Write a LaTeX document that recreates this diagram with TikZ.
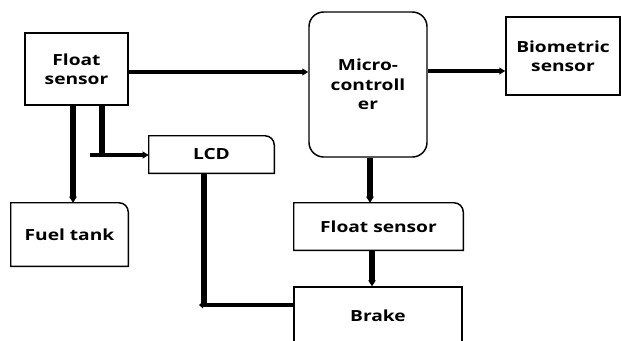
\documentclass[tikz,border=0pt]{standalone}
\usepackage{fontspec}
\setmainfont{Open Sans}[FakeStretch=1.25]
\usetikzlibrary{arrows.meta}
\begin{document}
\begin{tikzpicture}[x=0.75pt,y=0.75pt,
  font=\fontsize{11.5}{14.5}\selectfont\bfseries,
  box/.style={draw=none,inner sep=0pt,align=center},
  border/.style={line width=1.1pt},
  hline/.style={line width=2.6pt,-{Triangle[length=4.5pt,width=5pt]}},
  vline/.style={line width=4pt,-{Triangle[length=4.5pt,width=5.5pt]}},
  vplain/.style={line width=4pt},
  hplain/.style={line width=2.6pt}]
\useasboundingbox (0,0) rectangle (621,-340);
\clip (0,0) rectangle (621,-340);
% nodes
\node[box,draw,border,minimum width=103*0.75pt,minimum height=72*0.75pt] (fs1) at (76.5,-69) {Float\\sensor};
\node[box,draw,border,rounded corners=11pt,minimum width=118*0.75pt,minimum height=145*0.75pt] (mc) at (368,-84.5) {Micro-\\controll\\er};
\node[box,draw,border,minimum width=114*0.75pt,minimum height=78*0.75pt] (bio) at (563,-56) {Biometric\\sensor};
\node[box,minimum width=125*0.75pt,minimum height=37*0.75pt] (lcd) at (211.5,-154.5) {LCD};
\node[box,minimum width=117*0.75pt,minimum height=63*0.75pt] (fuel) at (69.5,-234.5) {Fuel tank};
\node[box,minimum width=169*0.75pt,minimum height=47*0.75pt] (fs2) at (378.5,-226.5) {Float sensor};
\node[box,draw,border,minimum width=168*0.75pt,minimum height=58*0.75pt] (brake) at (378,-316) {Brake};
% borders with a rounded top-right corner
\foreach \n in {lcd,fuel,fs2}{
  \draw[border] (\n.south west) -- (\n.north west) -- ([xshift=-7pt]\n.north east)
    arc[start angle=90,end angle=0,radius=7pt] -- (\n.south east) -- cycle;
}
% connectors
\draw[hline] (fs1.east |- 0,-72) -- (mc.west |- 0,-72);
\draw[hline] (mc.east |- 0,-71) -- (bio.west |- 0,-71);
\draw[vline] (fs1.south -| 73,0) -- (fuel.north -| 73,0);
\coordinate (j1) at (102,-155);
\coordinate (j0) at (90,-155);
\draw[vplain] (fs1.south -| j1) -- (j1);
\draw[hline] (j0) -- (lcd.west |- j0);
\draw[vline] (mc.south -| 370,0) -- (fs2.north -| 370,0);
\draw[vline] (fs2.south -| 372,0) -- (brake.north -| 372,0);
\coordinate (c1) at (204,-305);
\coordinate (c0) at (199,-305);
\draw[vplain] (lcd.south -| c1) -- ([yshift=-1.5pt]c1);
\draw[line width=2.6pt,-{Triangle[length=3pt,width=5pt]}] (brake.west |- c1) -- (c0);
\end{tikzpicture}
\end{document}
